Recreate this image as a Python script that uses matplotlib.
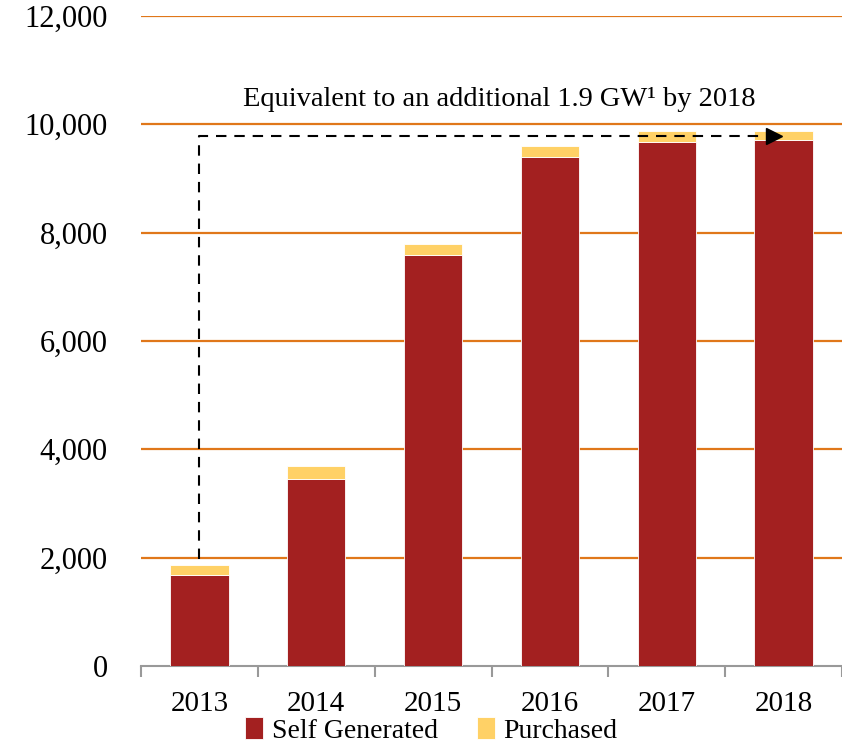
import matplotlib.pyplot as plt
import numpy as np

years = ["2013", "2014", "2015", "2016", "2017", "2018"]
self_generated = [1680, 3450, 7590, 9400, 9670, 9715]
purchased = [185, 240, 200, 190, 200, 160]
y_ticks = [0, 2000, 4000, 6000, 8000, 10000, 12000]
y_labels = ["0", "2,000", "4,000", "6,000", "8,000", "10,000", "12,000"]
note = "Equivalent to an additional 1.9 GW¹ by 2018"

red = "#A32020"
yellow = "#FFD166"
orange = "#E0771A"

plt.rcParams["font.family"] = ["Liberation Serif", "DejaVu Serif"]

fig = plt.figure(figsize=(8.42, 7.43), dpi=100)
ax = fig.add_axes([0.1675, 0.1036, 0.8325, 0.875])

x = np.arange(len(years))
ax.bar(x, self_generated, width=0.5, color=red, edgecolor="white", linewidth=0.6,
       label="Self Generated", zorder=3)
ax.bar(x, purchased, width=0.5, bottom=self_generated, color=yellow, edgecolor="white",
       linewidth=0.6, label="Purchased", zorder=3)

ax.set_xlim(-0.5, 5.42)
ax.set_ylim(0, 12000)
ax.set_yticks(y_ticks)
ax.set_yticklabels(y_labels, fontsize=22)
ax.set_xticks(x)
ax.set_xticklabels(years, fontsize=21)
ax.tick_params(axis="x", length=0, pad=18)
ax.tick_params(axis="y", length=0, pad=24)
ax.set_xticks(np.arange(-0.5, 6, 1), minor=True)
ax.tick_params(axis="x", which="minor", length=8, color="#999999", width=1.5)

for v in y_ticks[1:]:
    ax.axhline(v, color=orange, linewidth=1.6, zorder=1)

for s in ["top", "right", "left"]:
    ax.spines[s].set_visible(False)
ax.spines["bottom"].set_color("#999999")
ax.spines["bottom"].set_linewidth(1.5)

# dashed arrow from 2013 to 2018
top_y = 9780
ax.plot([0, 0, 4.85], [1980, top_y, top_y], color="black", linestyle=(0, (5, 3.8)),
        linewidth=1.5, zorder=4)
ax.plot([4.92], [top_y], marker=">", color="black", markersize=11, zorder=5)

ax.text(2.57, 10450, note, fontsize=20.5, ha="center", va="center")

ax.legend(loc="center", bbox_to_anchor=(0.414, -0.099), ncol=2, frameon=False,
          fontsize=20, handlelength=0.65, handleheight=0.85, handletextpad=0.3,
          columnspacing=1.4, borderaxespad=0, borderpad=0)

plt.savefig("out.png", dpi=100)
